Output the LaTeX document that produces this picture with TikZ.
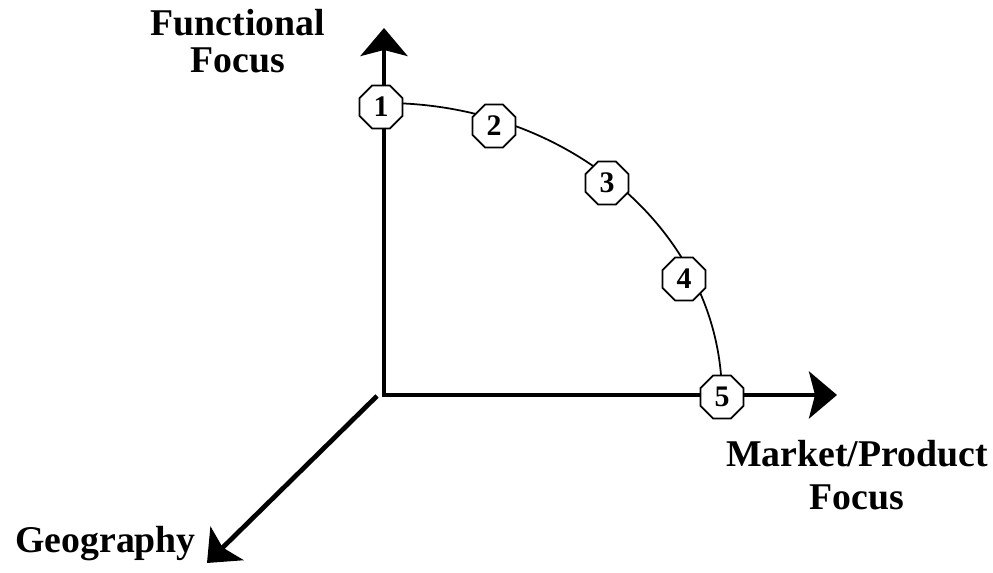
\documentclass[tikz,border=0pt]{standalone}
\usepackage{fontspec}
\setmainfont{Liberation Serif}
\usetikzlibrary{arrows.meta,shapes.geometric}

\begin{document}
\begin{tikzpicture}[x=0.02cm, y=0.02cm,
  every node/.style={inner sep=0pt},
  axis/.style ={line width=2.7pt, {Stealth[length=5.6mm, width=9.4mm, inset=1.2mm]}-{Stealth[length=5.6mm, width=9.4mm, inset=1.2mm]}},
  depth/.style={line width=2.7pt, -{Stealth[length=5.6mm, width=9.4mm, inset=1.2mm]}},
  curve/.style={line width=1pt},
  octo/.style ={draw, line width=1pt, fill=white, regular polygon, regular polygon sides=8,
                minimum size=9.3mm, font=\fontsize{17}{19}\selectfont\bfseries},
  lbl/.style  ={align=center, font=\fontsize{21.5}{25}\selectfont\bfseries},
]
\useasboundingbox (0,0) rectangle (993,573);

% axes
\coordinate (O)    at (384,178);
\coordinate (ytip) at (384,545);
\coordinate (xtip) at (837,178);
\coordinate (dbeg) at (377,177);
\coordinate (dtip) at (207,10);
\coordinate (C)    at (384,176);

\draw[axis]  (ytip) -- (O) -- (xtip);
\draw[depth] (dbeg) -- (dtip);

% the stages on the arc
\draw[curve] (C) ++(0,294) arc[start angle=90, end angle=0, x radius=6.76cm, y radius=5.88cm];

\node[octo] (s1) at (381,466) {1};
\node[octo] (s2) at (494,447) {2};
\node[octo] (s3) at (607,390) {3};
\node[octo] (s4) at (684,294) {4};
\node[octo] (s5) at (722,176) {5};

% labels
\node[lbl, anchor=base, font=\fontsize{21.5}{21.5}\selectfont\bfseries] (func) at (238,500) {Functional\\Focus};
\node[lbl, anchor=base] (mkt) at (857,63) {Market/Product\\Focus};
\node[lbl, anchor=base west] (geo) at (15,20) {Geography};

\end{tikzpicture}
\end{document}
